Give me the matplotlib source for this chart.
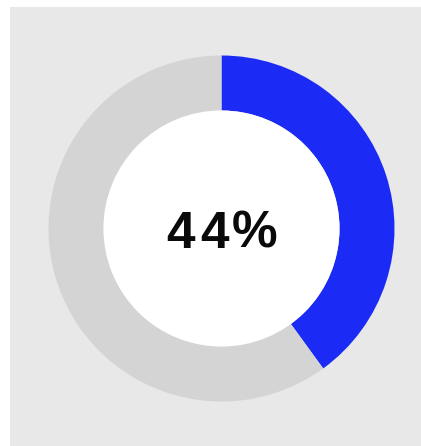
import matplotlib
matplotlib.use("Agg")
import matplotlib.pyplot as plt
from matplotlib.patches import Rectangle, Circle

# Data (arc as drawn in the reference; label as printed)
labels = ["Done", "Remaining"]
values = [40, 60]
center_label = "44%"
colors = ["#1b2bf5", "#d4d4d4"]

W, H = 421, 446
fig = plt.figure(figsize=(W / 100, H / 100), dpi=100)
fig.patch.set_facecolor("white")
ax = fig.add_axes([0, 0, 1, 1])

cx, cy = 221.5, H - 228.5
r_out, r_in = 173, 118

ax.add_patch(Rectangle((10, 0), W - 10, H - 7, facecolor="#e8e8e8", edgecolor="none", zorder=0))
ax.pie(values, colors=colors, startangle=90, counterclock=False,
       radius=r_out, center=(cx, cy),
       wedgeprops=dict(width=r_out - r_in, edgecolor="none", linewidth=0),
       frame=True)
ax.add_patch(Circle((cx, cy), r_in, facecolor="white", edgecolor="none", zorder=3))

# center label, drawn per character to mimic the wide letter spacing
chars = list(center_label)
offsets = [-41, -7, 33]
for ch, dx in zip(chars, offsets):
    ax.text(cx + dx, H - 248, ch, ha="center", va="baseline", fontsize=37,
            fontweight="bold",
            family=["Liberation Sans", "DejaVu Sans"], color="#0a0a0a", zorder=4)

ax.set_xlim(0, W)
ax.set_ylim(0, H)
ax.set_aspect("equal")
ax.axis("off")
fig.savefig("out.png", dpi=100, facecolor="white")
